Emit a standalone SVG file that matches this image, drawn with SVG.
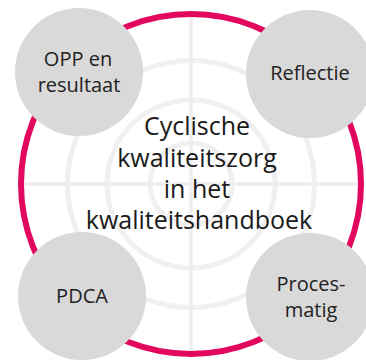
<svg xmlns="http://www.w3.org/2000/svg" width="366" height="360" viewBox="0 0 366 360">
  <style>
    .bg { fill: none; stroke: #f0f0f0; stroke-width: 5; }
    .cross { stroke: #eeeeee; stroke-width: 3.5; }
    .ring { fill: none; stroke: #e2085e; stroke-width: 6; }
    .node { fill: #d9d9d9; }
    .lbl { font-family: "Open Sans", "Noto Sans", sans-serif; font-size: 20px; fill: #222222; text-anchor: middle; }
    .title { font-family: "Open Sans", "Noto Sans", sans-serif; font-size: 25px; fill: #1a1a1a; text-anchor: middle; }
  </style>
  <rect width="366" height="360" fill="#ffffff"/>
  <g id="background">
    <circle class="bg" cx="191" cy="184" r="41"/>
    <circle class="bg" cx="191" cy="184" r="84"/>
    <circle class="bg" cx="191" cy="184" r="123.5"/>
    <line class="cross" x1="21" y1="184" x2="361" y2="184"/>
    <line class="cross" x1="191" y1="14" x2="191" y2="354"/>
  </g>
  <g id="connectors">
    <circle class="ring" cx="191" cy="184" r="170"/>
  </g>
  <g id="center">
    <text class="title" x="197" y="135">Cyclische</text>
    <text class="title" x="197" y="167">kwaliteitszorg</text>
    <text class="title" x="197" y="198">in het</text>
    <text class="title" x="199" y="229">kwaliteitshandboek</text>
  </g>
  <g id="opp">
    <circle class="node" cx="79" cy="72" r="64"/>
    <text class="lbl" x="78" y="66">OPP en</text>
    <text class="lbl" x="79" y="92">resultaat</text>
  </g>
  <g id="reflectie">
    <circle class="node" cx="310" cy="74" r="64"/>
    <text class="lbl" x="310" y="80">Reflectie</text>
  </g>
  <g id="pdca">
    <circle class="node" cx="82" cy="296" r="64"/>
    <text class="lbl" x="82" y="303">PDCA</text>
  </g>
  <g id="procesmatig">
    <circle class="node" cx="310" cy="297" r="64"/>
    <text class="lbl" x="311" y="291">Proces-</text>
    <text class="lbl" x="311" y="317">matig</text>
  </g>
</svg>
